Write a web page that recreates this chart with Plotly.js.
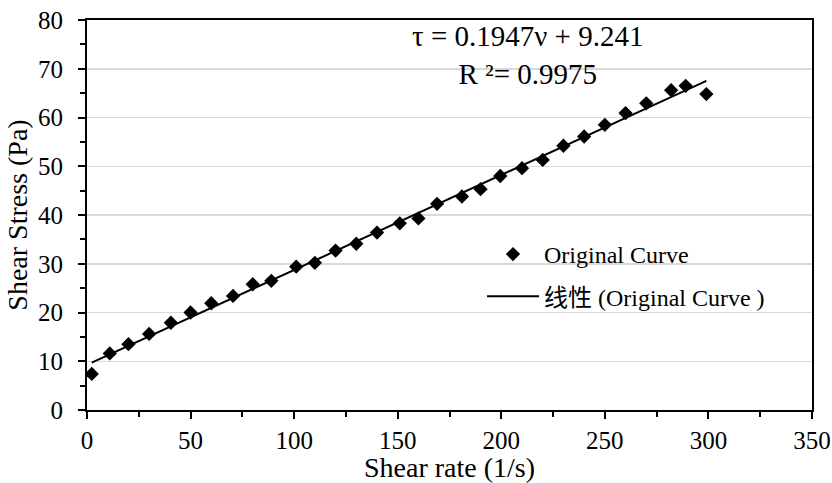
<!DOCTYPE html>
<html>
<head>
<meta charset="utf-8">
<script src="https://cdn.plot.ly/plotly-3.0.1.min.js"></script>
<style>html,body{margin:0;padding:0;background:#fff;}#chart{width:832px;height:483px;}</style>
</head>
<body>
<div id="chart"></div>
<script>
// Data
const shearRate = [2.3, 11, 20, 30, 40.5, 50, 60, 70.5, 80, 89, 101, 110, 120, 130, 140, 151, 160, 169, 181, 190, 199.5, 210, 220, 230, 240, 250, 260, 270, 282, 289, 299];
const shearStress = [7.4, 11.6, 13.5, 15.6, 17.9, 20.0, 21.9, 23.4, 25.8, 26.5, 29.4, 30.2, 32.7, 34.1, 36.4, 38.3, 39.3, 42.3, 43.8, 45.3, 48.0, 49.6, 51.3, 54.2, 56.1, 58.5, 60.9, 62.9, 65.6, 66.5, 64.8];
const trendX = [2.3, 299];
const trendY = [9.7, 67.5];
const seriesName = 'Original Curve';
const trendName = '线性 (Original Curve )';
const equationText = 'τ = 0.1947ν + 9.241<br>R ²= 0.9975';
const xTitle = 'Shear rate (1/s)';
const yTitle = 'Shear Stress (Pa)';

const FONT = '"Liberation Serif", "Times New Roman", "Noto Sans CJK SC", serif';

const traces = [
  {
    x: shearRate, y: shearStress, type: 'scatter', mode: 'markers', name: seriesName,
    legendgroup: 'a',
    marker: {symbol: 'diamond', size: 11, color: '#000'}
  },
  {
    x: trendX, y: trendY, type: 'scatter', mode: 'lines', name: trendName,
    legendgroup: 'b',
    line: {color: '#000', width: 2}
  }
];

const layout = {
  width: 832, height: 483,
  margin: {l: 87, r: 20, t: 20, b: 73},
  paper_bgcolor: '#fff', plot_bgcolor: '#fff',
  font: {family: FONT, color: '#000', size: 24},
  showlegend: true,
  legend: {
    x: (482 - 87) / 725, y: (410 - 232) / 390, xanchor: 'left', yanchor: 'top',
    bgcolor: 'rgba(0,0,0,0)', font: {family: FONT, size: 24, color: '#000'},
    tracegroupgap: 8, itemwidth: 52
  },
  xaxis: {
    range: [0, 350], dtick: 50, tick0: 0,
    showgrid: false, zeroline: false,
    showline: true, linecolor: '#000', linewidth: 2, mirror: true,
    ticks: 'outside', ticklen: 7, tickwidth: 2, tickcolor: '#000',
    minor: {dtick: 25, ticks: 'outside', ticklen: 5, tickwidth: 2, tickcolor: '#000', showgrid: false},
    tickfont: {family: FONT, size: 25, color: '#000'},
    title: {text: xTitle, font: {family: FONT, size: 28, color: '#000'}, standoff: 4}
  },
  yaxis: {
    range: [0, 80], dtick: 10, tick0: 0,
    showgrid: true, gridcolor: '#d9d9d9', gridwidth: 1.5, zeroline: false,
    showline: true, linecolor: '#000', linewidth: 2, mirror: true,
    ticks: 'outside', ticklen: 7, tickwidth: 2, tickcolor: '#000',
    minor: {dtick: 5, ticks: 'outside', ticklen: 5, tickwidth: 2, tickcolor: '#000', showgrid: false},
    tickfont: {family: FONT, size: 25, color: '#000'},
    ticklabelstandoff: 10,
    title: {text: yTitle, font: {family: FONT, size: 28, color: '#000'}, standoff: 2}
  },
  annotations: [{
    text: equationText, xref: 'paper', yref: 'paper',
    x: (527 - 87) / 725, y: 1.005, xanchor: 'center', yanchor: 'top',
    showarrow: false, align: 'center',
    font: {family: FONT, size: 29, color: '#000'}
  }]
};

Plotly.newPlot('chart', traces, layout, {displayModeBar: false, staticPlot: true});
</script>
</body>
</html>
